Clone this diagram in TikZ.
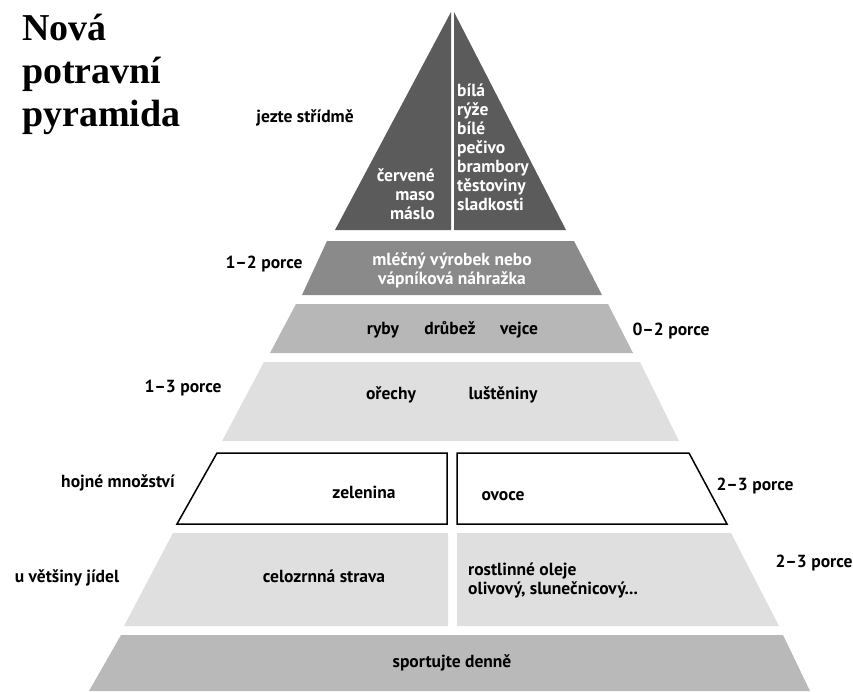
\documentclass[tikz,border=0pt]{standalone}
\usepackage{fontspec}
\setmainfont{PT Sans}
\newfontfamily\titlefont{Liberation Serif}
\definecolor{toptri}{HTML}{5B5B5B}
\definecolor{dairy}{HTML}{8A8A8A}
\definecolor{protein}{HTML}{B7B7B7}
\definecolor{plant}{HTML}{DFDFDF}
\definecolor{sport}{HTML}{B9B9B9}
\begin{document}
\begin{tikzpicture}[x=1pt, y=-1pt,
                    lbl/.style = {inner sep=0pt,
                                  font=\bfseries\fontsize{17.5}{19}\selectfont},
                    wlbl/.style = {lbl, text=white},
                    fruitbox/.style = {draw=black, line width=1.5pt, fill=white}]
	\useasboundingbox (0,0) rectangle (853,691);
	\fill[toptri] (335,230) -- (451,12) -- (451,230) -- cycle;
	\fill[toptri] (454,12) -- (454,230) -- (566,230) -- cycle;
	\fill[dairy] (327,241) -- (574,241) -- (602,295) -- (302,295) -- cycle;
	\fill[protein] (296,304) -- (608,304) -- (633,353) -- (270,353) -- cycle;
	\fill[plant] (264,362) -- (640,362) -- (679,441) -- (222,441) -- cycle;
	\draw[fruitbox] (217,453) -- (447,453) -- (447,524) -- (177,524) -- cycle;
	\draw[fruitbox] (457,453) -- (689,453) -- (727,524) -- (457,524) -- cycle;
	\fill[plant] (173,533) -- (448,533) -- (448,626) -- (124,626) -- cycle;
	\fill[plant] (457,533) -- (731,533) -- (779,626) -- (457,626) -- cycle;
	\fill[sport] (121,635) -- (783,635) -- (810,691) -- (89,691) -- cycle;
	\node[anchor=north west, inner sep=0pt, align=left,
	      font=\titlefont\bfseries\fontsize{38}{43}\selectfont] (title) at (22,14)
	      {Nová\\potravní\\pyramida};
	\node[lbl, anchor=base] (sparing) at (305,122) {jezte střídmě};
	\node[wlbl, anchor=east, align=right] (meat) at (435,194) {červené\\maso\\máslo};
	\node[wlbl, anchor=west, align=left] (starch) at (457,147)
	      {bílá\\rýže\\bílé\\pečivo\\brambory\\těstoviny\\sladkosti};
	\node[lbl, anchor=base] (dairyqty) at (264,268) {1–2 porce};
	\node[wlbl, align=center] (milk) at (452,270) {mléčný výrobek nebo\\vápníková náhražka};
	\node[lbl, anchor=base] (fish) at (383,334) {ryby};
	\node[lbl, anchor=base] (poultry) at (450,334) {drůbež};
	\node[lbl, anchor=base] (eggs) at (519,334) {vejce};
	\node[lbl, anchor=base] (proteinqty) at (671,335) {0–2 porce};
	\node[lbl, anchor=base] (nutsqty) at (183,392) {1–3 porce};
	\node[lbl, anchor=base] (nuts) at (391,399) {ořechy};
	\node[lbl, anchor=base] (legumes) at (503,399) {luštěniny};
	\node[lbl, anchor=base] (vegqty) at (118,487) {hojné množství};
	\node[lbl, anchor=base] (veg) at (364,498) {zelenina};
	\node[lbl, anchor=base] (fruit) at (503,500) {ovoce};
	\node[lbl, anchor=base] (fruitqty) at (755,490) {2–3 porce};
	\node[lbl, anchor=base] (grainqty) at (67,582) {u většiny jídel};
	\node[lbl, anchor=base] (grain) at (324,582) {celozrnná strava};
	\node[lbl, anchor=west, align=left] (oils) at (468,580)
	      {rostlinné oleje\\olivový, slunečnicový...};
	\node[lbl, anchor=base] (oilsqty) at (814,567) {2–3 porce};
	\node[lbl, anchor=base] (move) at (452,667) {sportujte denně};
\end{tikzpicture}
\end{document}
